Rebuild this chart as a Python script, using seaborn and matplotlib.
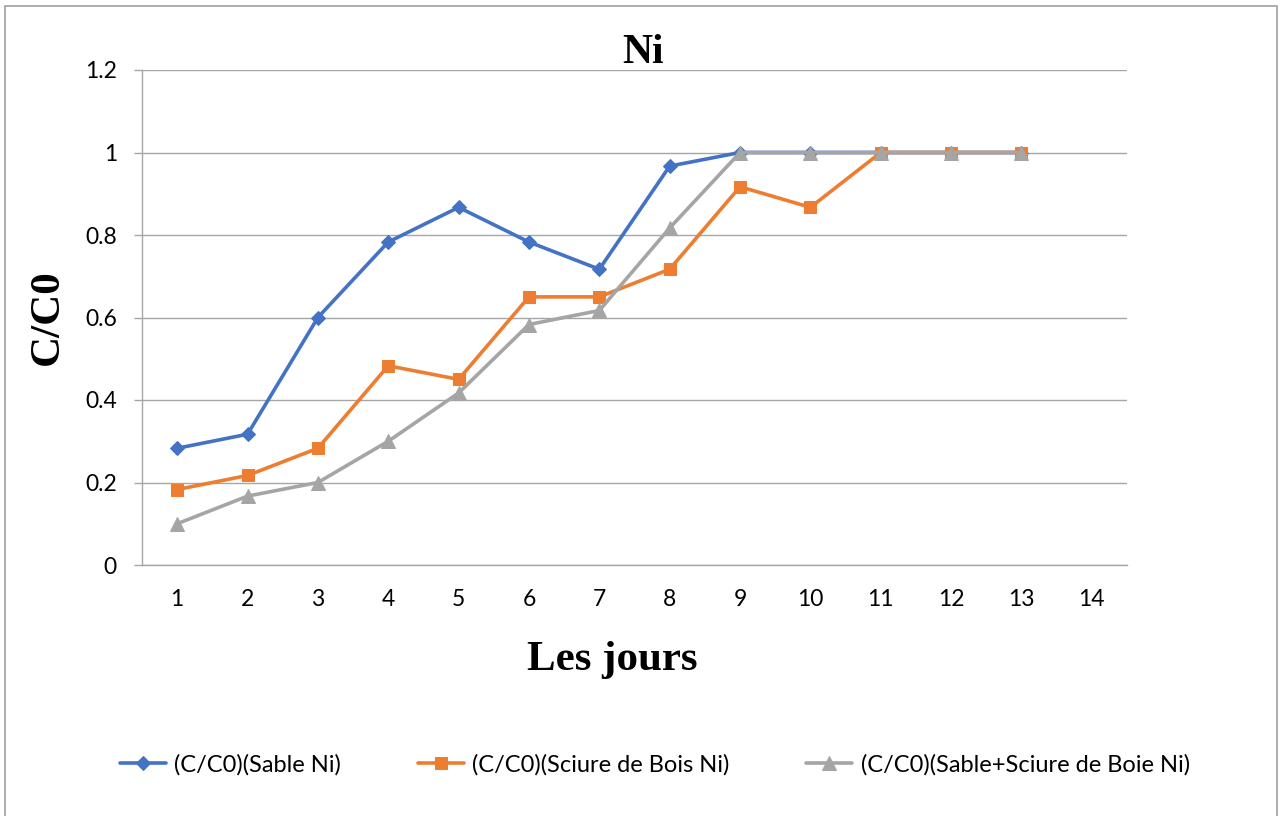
import matplotlib
matplotlib.use("Agg")
import matplotlib.pyplot as plt
import seaborn as sns
import numpy as np
from matplotlib.patches import Rectangle

days = list(range(1, 15))
sable = [0.283, 0.317, 0.600, 0.783, 0.867, 0.783, 0.717, 0.967, 1.0, 1.0, 1.0, 1.0, 1.0, np.nan]
sciure = [0.183, 0.217, 0.283, 0.483, 0.450, 0.650, 0.650, 0.717, 0.917, 0.867, 1.0, 1.0, 1.0, np.nan]
mix = [0.100, 0.167, 0.200, 0.300, 0.417, 0.583, 0.617, 0.817, 1.0, 1.0, 1.0, 1.0, 1.0, np.nan]
labels = ["(C/C0)(Sable Ni)", "(C/C0)(Sciure de Bois Ni)", "(C/C0)(Sable+Sciure de Boie Ni)"]
yticks = [0, 0.2, 0.4, 0.6, 0.8, 1.0, 1.2]
ytick_labels = ["0", "0.2", "0.4", "0.6", "0.8", "1", "1.2"]

sns.set_theme(style="white")
plt.rcParams['font.family'] = ['Lato', 'DejaVu Sans']
plt.rcParams['text.color'] = 'black'
plt.rcParams['axes.labelcolor'] = 'black'

fig = plt.figure(figsize=(12.85, 8.16), dpi=100)
ax = fig.add_axes([142/1285, 1-565/816, 985/1285, 495/816])

colors = ["#4472C4", "#ED7D31", "#A5A5A5"]
markers = ["D", "s", "^"]
msizes = [7, 9, 10]
for vals, lab, c, m, ms in zip([sable, sciure, mix], labels, colors, markers, msizes):
    sns.lineplot(x=days, y=vals, ax=ax, color=c, marker=m, markersize=ms,
                 markeredgecolor=c, linewidth=2.6, label=lab)

ax.set_xlim(0.5, 14.5)
ax.set_ylim(0, 1.2)
ax.set_xticks(days)
ax.set_xticklabels([str(d) for d in days])
ax.set_yticks(yticks)
ax.set_yticklabels(ytick_labels)
ax.grid(axis='y', color="#A6A6A6", linewidth=1)
ax.set_axisbelow(True)
for s in ["top", "right"]:
    ax.spines[s].set_visible(False)
ax.spines["left"].set_color("#A6A6A6")
ax.spines["bottom"].set_color("#A6A6A6")
ax.spines["left"].set_linewidth(1)
ax.spines["bottom"].set_linewidth(1)
ax.tick_params(axis='x', length=0, pad=17, labelsize=16.5, colors="black")
ax.tick_params(axis='y', length=6, width=1, color="#A6A6A6", pad=12, labelsize=16.5,
               left=True, labelcolor="black")

ax.set_title("Ni", fontsize=30, fontweight='bold', family=['Liberation Serif'], x=0.5086, pad=5,
             color='black')
ax.set_xlabel("Les jours", fontsize=31, fontweight='bold', family=['Liberation Serif'])
ax.xaxis.set_label_coords(0.477, -0.192)
ax.xaxis.label.set_va('center')
ax.set_ylabel("C/C0", fontsize=31, fontweight='bold', family=['Liberation Serif'])
ax.yaxis.set_label_coords(-0.0954, 0.5)
ax.yaxis.label.set_va('center')

leg = fig.legend(*ax.get_legend_handles_labels(), loc='center', bbox_to_anchor=(655/1285, 1-765/816),
                 ncol=3, frameon=False, fontsize=17, handlelength=1.95, columnspacing=3.25,
                 handletextpad=0.35)
ax.get_legend().remove()

fig.patches.append(Rectangle((5/1285, -0.01), 1272/1285, 1-6/816+0.01, transform=fig.transFigure,
                             fill=False, edgecolor="#A0A0A0", linewidth=1.2))

fig.savefig("out.png", dpi=100)
